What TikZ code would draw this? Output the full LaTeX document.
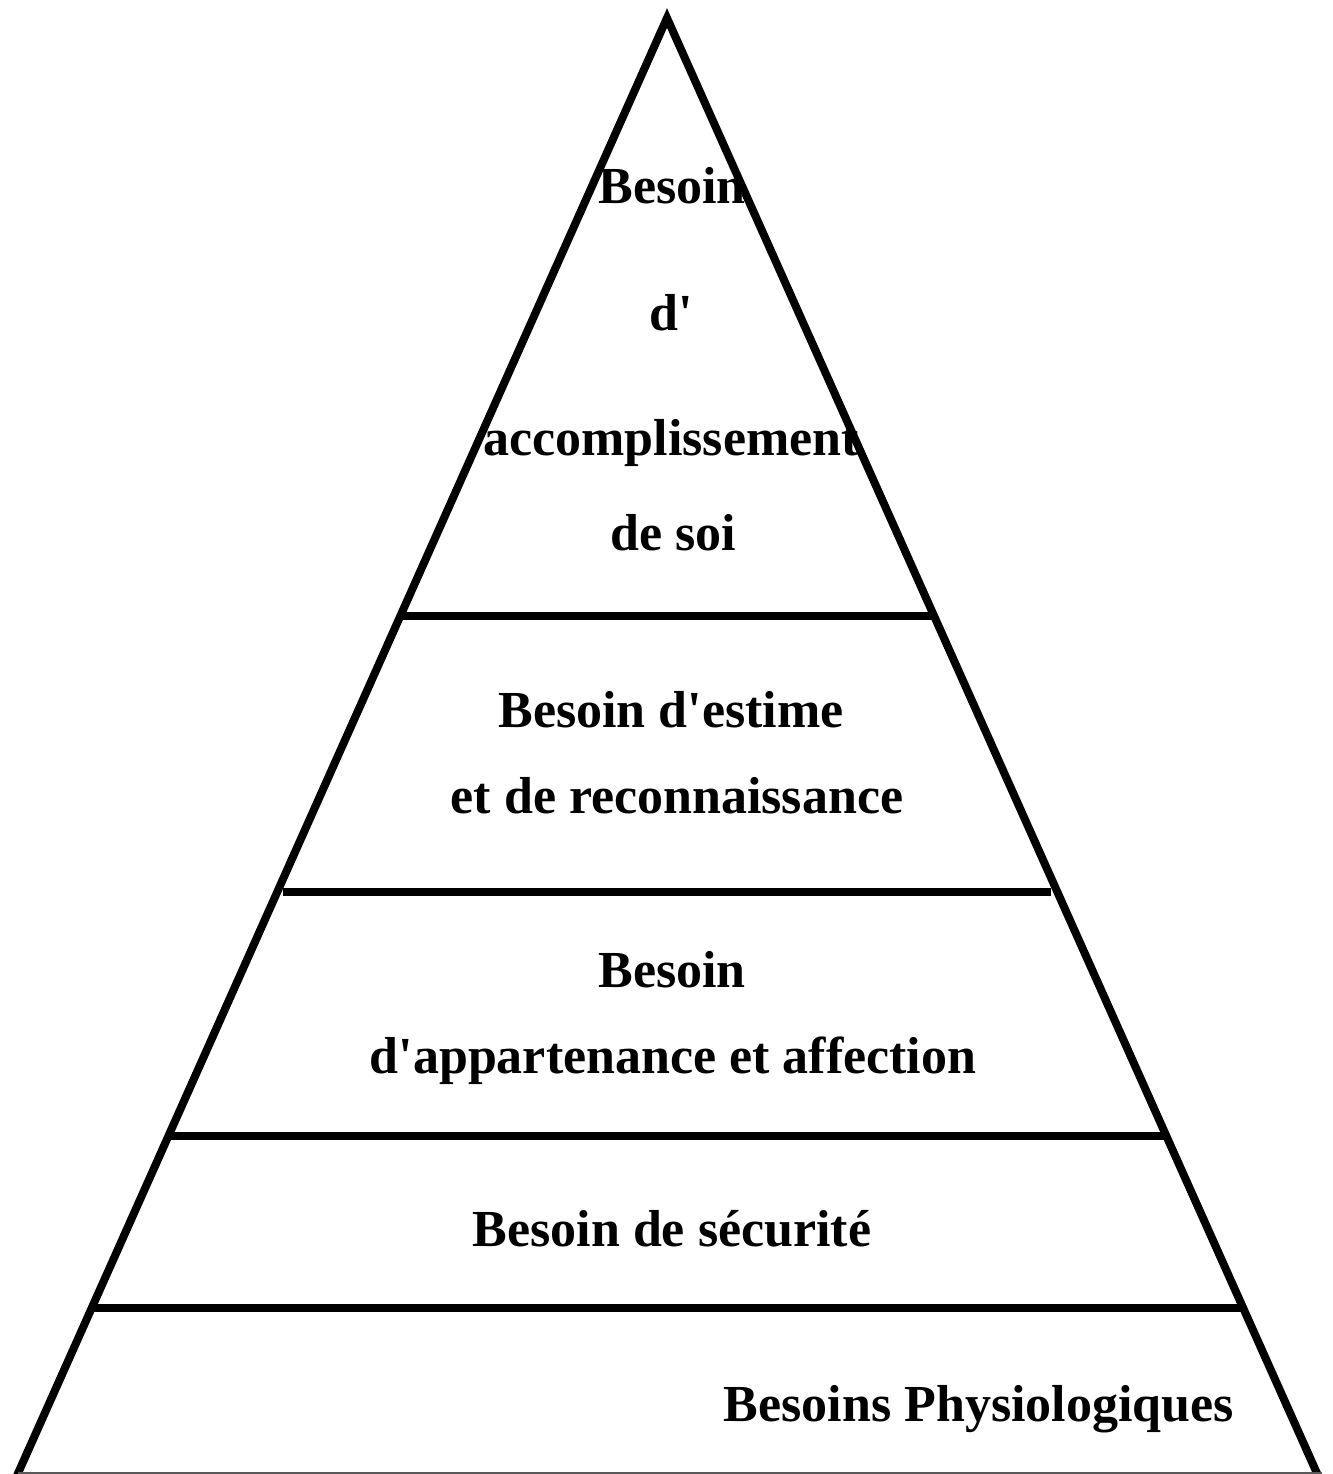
\documentclass[tikz,border=0pt]{standalone}
\usepackage{fontspec}
\setmainfont{Liberation Serif}
\newcommand{\apos}{\textquotesingle}
\begin{document}
\begin{tikzpicture}[x=0.5pt,y=-0.5pt,
  thick line/.style={line width=4pt,black},
  base line/.style={line width=0.8pt,black!65},
  lbl/.style={anchor=base,inner sep=0pt,font=\bfseries\fontsize{26}{30}\selectfont}]
\useasboundingbox (0,0) rectangle (1333,1474);
% pyramid outline
\coordinate (apex) at (667,18);
\coordinate (bl) at (15,1480);
\coordinate (br) at (1320,1480);
\draw[thick line,line join=miter,miter limit=10] (bl) -- (apex) -- (br);
\coordinate (b0) at (18,1473);
\coordinate (b1) at (1322,1473);
\draw[base line] (b0) -- (b1);
% level separators
\coordinate (l1a) at (400,616); \coordinate (l1b) at (932,616);
\coordinate (l2a) at (283,892); \coordinate (l2b) at (1051,892);
\coordinate (l3a) at (168,1135.5); \coordinate (l3b) at (1165,1135.5);
\coordinate (l4a) at (90,1307.5); \coordinate (l4b) at (1243,1307.5);
\draw[thick line] (l1a) -- (l1b);
\draw[thick line] (l2a) -- (l2b);
\draw[thick line] (l3a) -- (l3b);
\draw[thick line] (l4a) -- (l4b);
% labels
\node[lbl] (t1) at (672,203) {Besoin};
\node[lbl] (t2) at (671,330) {d\apos};
\node[lbl] (t3) at (671,455) {accomplissement};
\node[lbl] (t4) at (673,550) {de soi};
\node[lbl] (t5) at (671,727) {Besoin d\apos estime};
\node[lbl] (t6) at (677,813) {et de reconnaissance};
\node[lbl] (t7) at (672,987) {Besoin};
\node[lbl] (t8) at (673,1073) {d\apos appartenance et affection};
\node[lbl] (t9) at (672,1246) {Besoin de sécurité};
\node[lbl] (t10) at (979,1421) {Besoins Physiologiques};
\end{tikzpicture}
\end{document}
